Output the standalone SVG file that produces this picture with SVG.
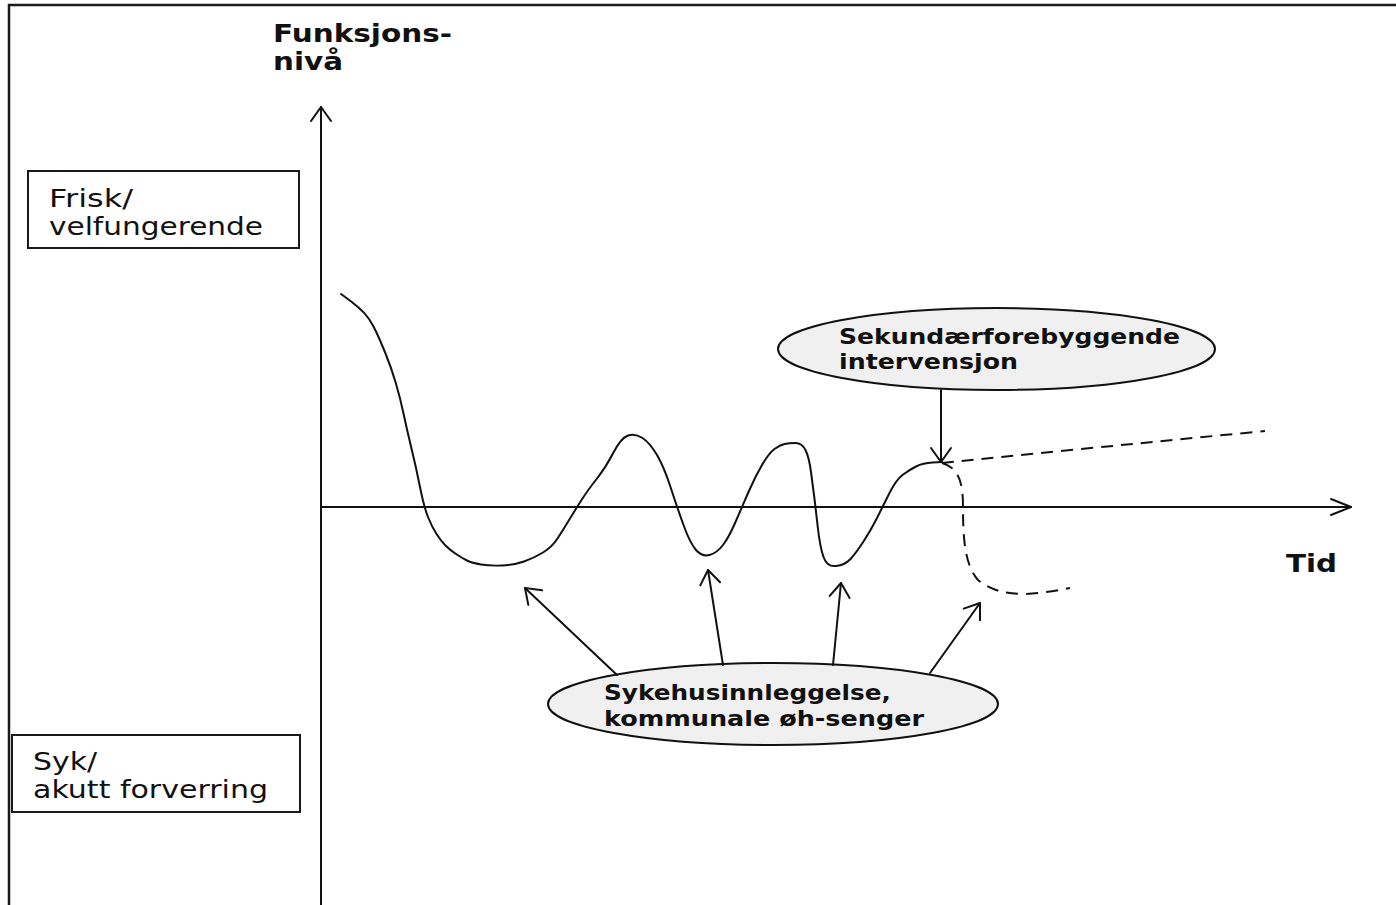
<svg xmlns="http://www.w3.org/2000/svg" width="1396" height="905" viewBox="0 0 1396 905">
<defs>
<style>
.frame{fill:none;stroke:#1a1a1a;stroke-width:2.5}
.box{fill:#fff;stroke:#1a1a1a;stroke-width:2}
.oval{fill:#f0f0f0;stroke:#111;stroke-width:2}
.line{fill:none;stroke:#111;stroke-width:2;stroke-linecap:round;stroke-linejoin:round}
.dash{fill:none;stroke:#111;stroke-width:2;stroke-dasharray:12 8}
.reg{font-family:"DejaVu Sans","Noto Sans",sans-serif;font-size:24px;fill:#111}
.bold{font-family:"DejaVu Sans","Noto Sans",sans-serif;font-weight:bold;fill:#111}
</style>
<marker id="arrow" viewBox="-16 -12 18 24" markerWidth="18" markerHeight="24" refX="0" refY="0" markerUnits="userSpaceOnUse" orient="auto" overflow="visible">
<path d="M-14 -10 L0 0 L-14 10" fill="none" stroke="#111" stroke-width="2" stroke-linecap="round" stroke-linejoin="round"/>
</marker>
<marker id="axisX" viewBox="-22 -10 24 20" markerWidth="24" markerHeight="20" refX="0" refY="0" markerUnits="userSpaceOnUse" orient="auto" overflow="visible">
<path d="M-20 -8 L0 0 L-20 8" fill="none" stroke="#111" stroke-width="2" stroke-linecap="round" stroke-linejoin="round"/>
</marker>
</defs>
<rect width="1396" height="905" fill="#fff"/>
<path class="frame" d="M9 905 V5 H1396"/>

<g id="axes">
<path class="line" d="M321 905 V107" marker-end="url(#arrow)"/>
<path class="line" d="M321 507 H1351" marker-end="url(#axisX)"/>
<text class="bold" x="273" y="42" font-size="24" textLength="179" lengthAdjust="spacingAndGlyphs">Funksjons-</text>
<text class="bold" x="273" y="70" font-size="24" textLength="70" lengthAdjust="spacingAndGlyphs">nivå</text>
<text class="bold" x="1286" y="572" font-size="25" textLength="51" lengthAdjust="spacingAndGlyphs">Tid</text>
</g>

<g id="frisk">
<rect class="box" x="28" y="171" width="271" height="77"/>
<text class="reg" x="49" y="207" textLength="84" lengthAdjust="spacingAndGlyphs">Frisk/</text>
<text class="reg" x="49" y="235" textLength="214" lengthAdjust="spacingAndGlyphs">velfungerende</text>
</g>

<g id="syk">
<rect class="box" x="12" y="735" width="288" height="77"/>
<text class="reg" x="33" y="770" textLength="64" lengthAdjust="spacingAndGlyphs">Syk/</text>
<text class="reg" x="33" y="798" textLength="235" lengthAdjust="spacingAndGlyphs">akutt forverring</text>
</g>

<g id="curve">
<path class="line" d="M341 294 L346.5 298 Q352 302 358.5 307.5 Q365 313 369 319 Q373 325 376.5 332.5 Q380 340 385.5 353.5 Q391 367 395.5 382 Q400 397 403.5 413.5 Q407 430 411.5 448.5 Q416 467 420 487 Q424 507 428 517 Q432 527 436.5 534 Q441 541 445.5 545.5 Q450 550 456 554 Q462 558 467 560.5 Q472 563 481 564.5 Q490 566 502 565.5 Q514 565 524 561.5 Q534 558 543 552.5 Q552 547 557.5 538.5 Q563 530 570 518.5 Q577 507 582.5 498.5 Q588 490 597 478.5 Q606 467 613.5 452.5 Q621 438 628 435.5 Q635 433 642.5 438 Q650 443 657 455 Q664 467 670.5 487 Q677 507 683.5 525 Q690 543 696 550 Q702 557 709.5 555 Q717 553 723 545 Q729 537 735.5 522 Q742 507 748.5 492 Q755 477 762 465 Q769 453 774.5 449 Q780 445 784.5 444 Q789 443 795.5 443 Q802 443 805.5 450 Q809 457 811 472 Q813 487 814.25 497 Q815.5 507 817.75 527 Q820 547 823.5 557 Q827 567 836 566 Q845 565 850.5 559 Q856 553 863.5 541.5 Q871 530 876.75 518.5 Q882.5 507 889.25 493.5 Q896 480 902.5 475 Q909 470 916 466.5 Q923 463 932.5 462.5 L942 462"/>
<path class="dash" d="M942 463 Q1100 447 1265 431"/>
<path class="dash" d="M942 463 C960 468 963 485 963 507 C963 540 965 565 978 580 C990 590 1005 594 1025 594 C1045 593 1060 590 1070 588"/>
</g>

<g id="sekundaer">
<ellipse class="oval" cx="996.5" cy="349" rx="218.5" ry="41"/>
<text class="bold" x="839" y="344" font-size="21" textLength="341" lengthAdjust="spacingAndGlyphs">Sekundærforebyggende</text>
<text class="bold" x="839" y="369" font-size="21" textLength="179" lengthAdjust="spacingAndGlyphs">intervensjon</text>
</g>

<g id="sykehus">
<ellipse class="oval" cx="773" cy="704" rx="225" ry="41"/>
<text class="bold" x="604" y="700" font-size="21" textLength="287" lengthAdjust="spacingAndGlyphs">Sykehusinnleggelse,</text>
<text class="bold" x="604" y="726" font-size="21" textLength="320" lengthAdjust="spacingAndGlyphs">kommunale øh-senger</text>
</g>

<g id="connectors">
<path class="line" d="M941 390 L941 462" marker-end="url(#arrow)"/>
<path class="line" d="M617 675 L525 588" marker-end="url(#arrow)"/>
<path class="line" d="M723 665 L708 570" marker-end="url(#arrow)"/>
<path class="line" d="M833 665 L841 583" marker-end="url(#arrow)"/>
<path class="line" d="M930 673 L980 603" marker-end="url(#arrow)"/>
</g>
</svg>
